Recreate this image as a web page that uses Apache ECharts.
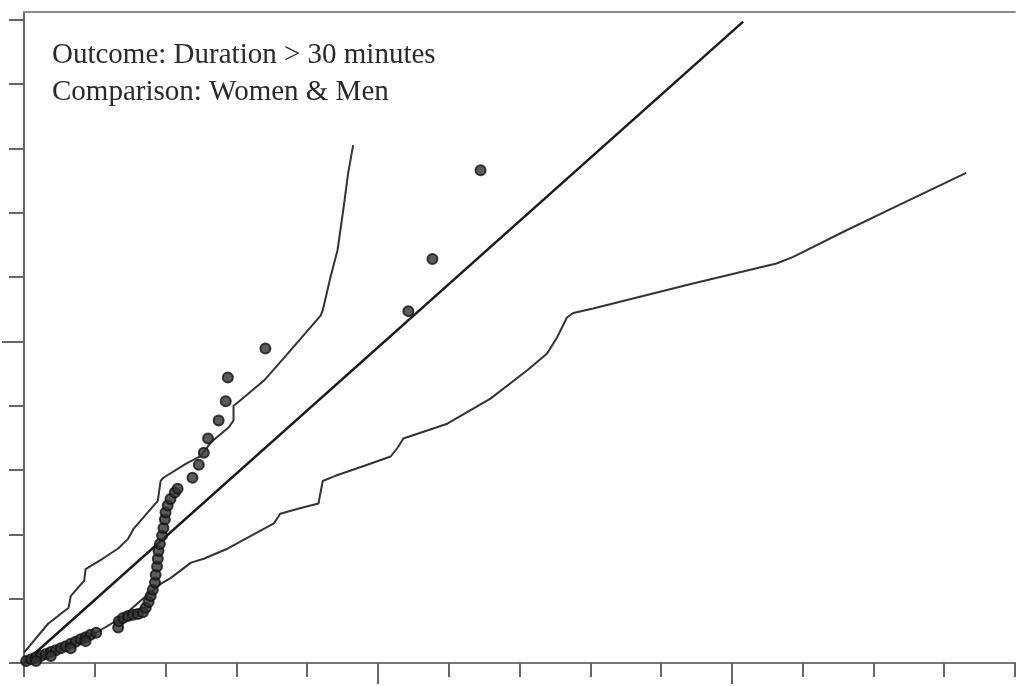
<!DOCTYPE html>
<html><head><meta charset="utf-8">
<script src="https://cdn.jsdelivr.net/npm/echarts@6/dist/echarts.min.js"></script>
<style>html,body{margin:0;padding:0;background:#fff}#c{width:1022px;height:686px}</style>
</head><body><div id="c"></div>
<script>
// ---- data (axis units = tick steps) ----
const xTicks = [0,1,2,3,4,5,6,7,8,9,10,11,12,13,14];
const yTicks = [0,1,2,3,4,5,6,7,8,9,10];
const xMajorTicks = [5,10];
const yMajorTicks = [5];
const annotationLines = ["Outcome: Duration > 30 minutes", "Comparison: Women & Men"];

const referenceLine = [[0,0],[10.16,9.97]];

const upperBand = [[0,0.16],[0.34,0.61],[0.63,0.86],[0.66,1.04],[0.85,1.28],[0.87,1.46],[1.11,1.62],
  [1.33,1.78],[1.47,1.93],[1.55,2.09],[1.89,2.52],[1.93,2.83],[1.97,2.88],[2.29,3.10],[2.50,3.22],
  [2.64,3.43],[2.89,3.66],[2.96,3.77],[2.96,4.00],[3.02,4.05],[3.39,4.39],[3.67,4.74],[4.19,5.40],
  [4.22,5.48],[4.33,6.00],[4.43,6.42],[4.51,7.04],[4.58,7.62],[4.65,8.05]];

const lowerBand = [[0,0],[0.52,0.22],[1.02,0.47],[1.37,0.70],[1.65,0.97],[1.93,1.23],[2.07,1.32],
  [2.36,1.56],[2.54,1.62],[2.88,1.78],[3.16,1.95],[3.53,2.17],[3.62,2.32],[3.91,2.41],[4.16,2.48],
  [4.22,2.83],[4.40,2.91],[4.82,3.07],[5.18,3.21],[5.28,3.35],[5.36,3.49],[5.98,3.72],[6.59,4.11],
  [7.11,4.55],[7.39,4.81],[7.53,5.06],[7.67,5.37],[7.76,5.44],[8.04,5.51],[9.45,5.90],[10.63,6.21],
  [10.86,6.31],[11.57,6.70],[12.27,7.07],[13.31,7.62]];

const observed = [[0.03,0.03],[0.10,0.06],[0.17,0.09],[0.24,0.11],[0.31,0.14],[0.38,0.17],[0.45,0.20],
  [0.52,0.23],[0.59,0.26],[0.66,0.30],[0.73,0.33],[0.80,0.37],[0.87,0.40],[0.94,0.44],[1.02,0.47],
  [0.17,0.03],[0.38,0.11],[0.66,0.23],[0.87,0.34],
  [1.33,0.55],[1.34,0.65],[1.40,0.70],[1.47,0.73],[1.54,0.75],[1.61,0.76],[1.68,0.79],[1.72,0.86],
  [1.76,0.95],[1.79,1.04],[1.82,1.14],[1.85,1.25],[1.86,1.37],[1.88,1.50],[1.89,1.62],[1.90,1.74],
  [1.92,1.85],[1.95,1.98],[1.97,2.10],[1.99,2.23],[2.00,2.34],[2.03,2.45],[2.07,2.55],[2.13,2.65],
  [2.17,2.71],[2.38,2.88],[2.47,3.08],[2.54,3.27],[2.60,3.49],[2.75,3.77],[2.85,4.07],[2.88,4.44],
  [3.41,4.89],[5.43,5.47],[5.77,6.28],[6.45,7.66]];

const chart = echarts.init(document.getElementById('c'), null, {renderer: 'canvas'});
const hidden = {show: false};
chart.setOption({
  animation: false,
  backgroundColor: '#ffffff',
  grid: {left: 24, right: 7, top: 12, bottom: 23, containLabel: false},
  xAxis: [
    {type: 'value', min: 0, max: 14, interval: 1, position: 'bottom',
     axisLine: {show: true, lineStyle: {color: '#777', width: 2}},
     axisTick: {show: true, inside: false, length: 14, customValues: xTicks, lineStyle: {color: '#666', width: 2}},
     axisLabel: hidden, splitLine: hidden},
    {type: 'value', min: 0, max: 14, interval: 1, position: 'bottom',
     axisLine: hidden,
     axisTick: {show: true, inside: false, length: 21, customValues: xMajorTicks, lineStyle: {color: '#666', width: 2}},
     axisLabel: hidden, splitLine: hidden},
    {type: 'value', min: 0, max: 14, interval: 1, position: 'top',
     axisLine: {show: true, lineStyle: {color: '#8a8a8a', width: 2}},
     axisTick: hidden, axisLabel: hidden, splitLine: hidden}
  ],
  yAxis: [
    {type: 'value', min: 0, max: 10.12, interval: 1, position: 'left',
     axisLine: {show: true, lineStyle: {color: '#666', width: 2}},
     axisTick: {show: true, inside: false, length: 15, customValues: yTicks, lineStyle: {color: '#666', width: 2}},
     axisLabel: hidden, splitLine: hidden},
    {type: 'value', min: 0, max: 10.12, interval: 1, position: 'left',
     axisLine: hidden,
     axisTick: {show: true, inside: false, length: 22, customValues: yMajorTicks, lineStyle: {color: '#666', width: 2}},
     axisLabel: hidden, splitLine: hidden}
  ],
  graphic: [
    {type: 'text', left: 52, top: 41, style: {text: annotationLines[0], font: '29px "Liberation Serif", "DejaVu Serif", serif', fill: '#2a2a2a'}},
    {type: 'text', left: 52, top: 78, style: {text: annotationLines[1], font: '29px "Liberation Serif", "DejaVu Serif", serif', fill: '#2a2a2a'}}
  ],
  series: [
    {type: 'line', name: 'reference', data: referenceLine, xAxisIndex: 0, yAxisIndex: 0,
     symbol: 'none', lineStyle: {color: '#1a1a1a', width: 2.4}, z: 2},
    {type: 'line', name: 'upper', data: upperBand, xAxisIndex: 0, yAxisIndex: 0,
     symbol: 'none', lineStyle: {color: '#333', width: 2}, z: 2},
    {type: 'line', name: 'lower', data: lowerBand, xAxisIndex: 0, yAxisIndex: 0,
     symbol: 'none', lineStyle: {color: '#333', width: 2}, z: 2},
    {type: 'scatter', name: 'observed', data: observed, xAxisIndex: 0, yAxisIndex: 0,
     symbol: 'circle', symbolSize: 10,
     itemStyle: {color: '#333', borderColor: '#111', borderWidth: 2}, z: 3}
  ]
});
</script>
</body></html>
